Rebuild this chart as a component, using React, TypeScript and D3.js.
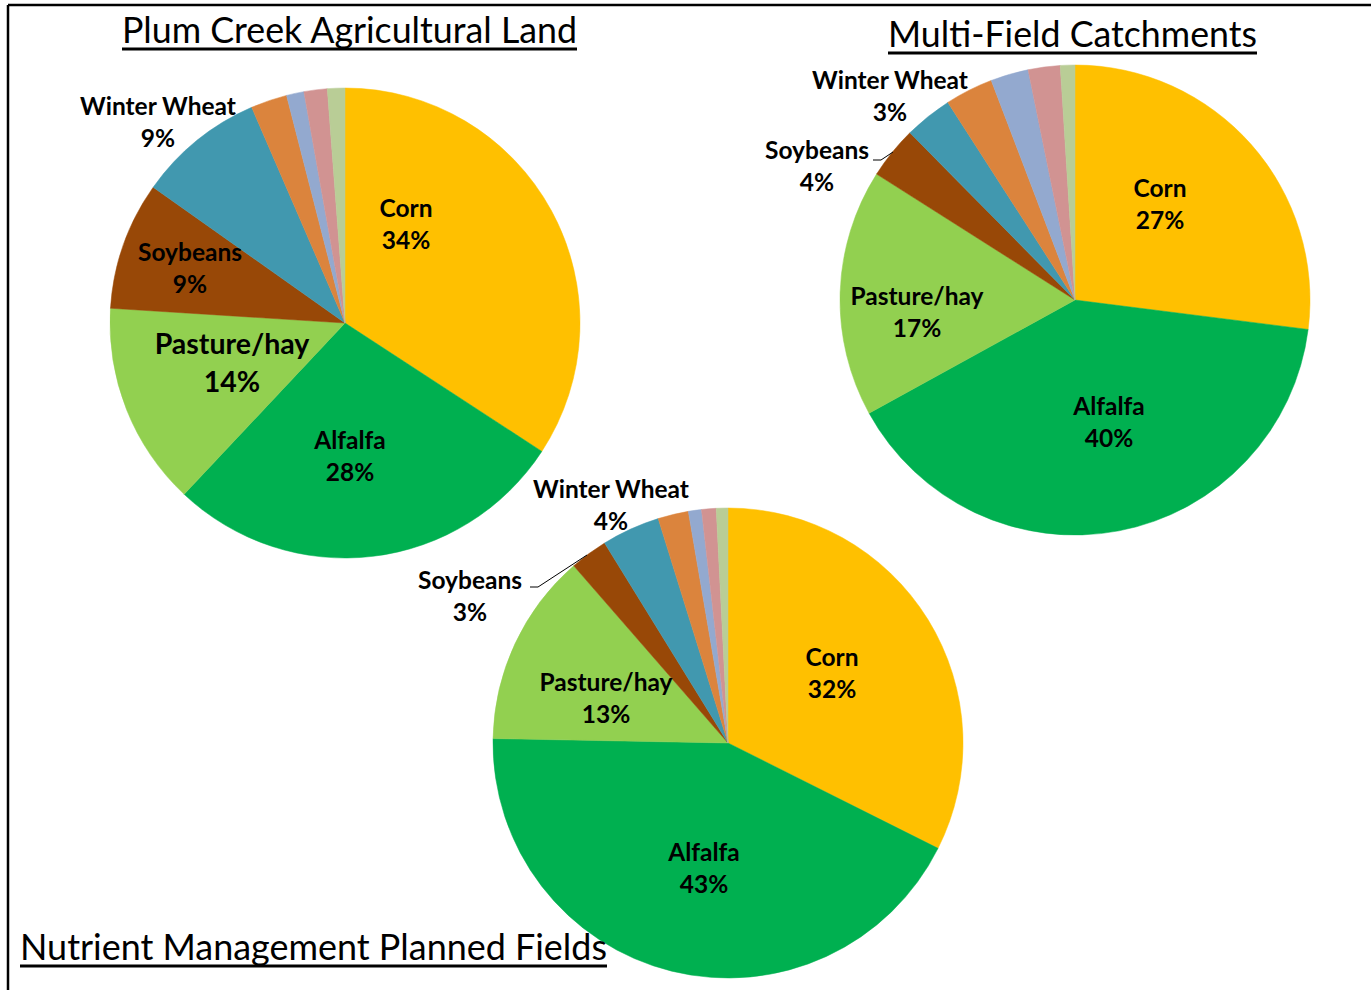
import React from "react";
import * as d3 from "d3";

const categories = ["Corn", "Alfalfa", "Pasture/hay", "Soybeans", "Winter Wheat", "Other 1", "Other 2", "Other 3", "Other 4"];
const colors = ["#FFC000", "#00B050", "#92D050", "#984807", "#4198AF", "#DB843D", "#93A9CF", "#D19392", "#B9CD96"];

const plumCreekValues = [34.2, 27.8, 14.0, 8.8, 8.7, 2.5, 1.2, 1.6, 1.2];
const multiFieldValues = [27.0, 40.0, 17.0, 3.6, 3.3, 3.3, 2.6, 2.2, 1.0];
const nutrientValues = [32.4, 42.9, 13.3, 2.6, 4.0, 2.1, 0.9, 1.0, 0.8];

const titles = ["Plum Creek Agricultural Land", "Multi-Field Catchments", "Nutrient Management Planned Fields"];

const R = 235;
const FONT = "Lato, 'Open Sans', sans-serif";

const pies = [
  {
    title: titles[0], values: plumCreekValues, cx: 345, cy: 323,
    titlePos: { x: 122, y: 43, w: 455 },
    labels: [
      { cat: "Corn", dx: 61, dy: -115 },
      { cat: "Alfalfa", dx: 5, dy: 117 },
      { cat: "Pasture/hay", dx: -113, dy: 21, size: 28.5, gap: 38 },
      { cat: "Soybeans", dx: -155, dy: -71 },
      { cat: "Winter Wheat", dx: -187, dy: -217 },
    ] as any[],
  },
  {
    title: titles[1], values: multiFieldValues, cx: 1075, cy: 300,
    titlePos: { x: 888, y: 47, w: 369 },
    labels: [
      { cat: "Corn", dx: 85, dy: -112 },
      { cat: "Alfalfa", dx: 34, dy: 106 },
      { cat: "Pasture/hay", dx: -158, dy: -4 },
      { cat: "Soybeans", dx: -258, dy: -150, leader: [[-202, -140], [-194, -140], [-182, -148]] },
      { cat: "Winter Wheat", dx: -185, dy: -220 },
    ] as any[],
  },
  {
    title: titles[2], values: nutrientValues, cx: 728, cy: 743,
    titlePos: { x: 20, y: 960, w: 587 },
    labels: [
      { cat: "Corn", dx: 104, dy: -86 },
      { cat: "Alfalfa", dx: -24, dy: 109 },
      { cat: "Pasture/hay", dx: -122, dy: -61 },
      { cat: "Soybeans", dx: -258, dy: -163, leader: [[-198, -156], [-190, -156], [-141, -188]] },
      { cat: "Winter Wheat", dx: -117, dy: -254 },
    ] as any[],
  },
];

function Pie({ p }: { p: any }) {
  const pie = d3.pie<number>().sort(null).value((d) => d);
  const arcs = pie(p.values);
  const arc = d3.arc<d3.PieArcDatum<number>>().innerRadius(0).outerRadius(R);
  const total = d3.sum(p.values as number[]);
  return (
    <g>
      <g transform={`translate(${p.cx},${p.cy})`}>
        {arcs.map((a, i) => (
          <path key={i} d={arc(a) || ""} fill={colors[i]} stroke={colors[i]} strokeWidth={0.5} />
        ))}
        {p.labels.map((l: any, i: number) => {
          const idx = categories.indexOf(l.cat);
          const pct = Math.round((p.values[idx] / total) * 100);
          const size = l.size || 24.5;
          const gap = l.gap || 32;
          const base = l.dy + size * 0.36;
          return (
            <g key={i}>
              {l.leader && (
                <polyline points={l.leader.map((q: number[]) => q.join(",")).join(" ")} fill="none" stroke="#000" strokeWidth={1} />
              )}
              <text x={l.dx} y={base} textAnchor="middle" fontFamily={FONT} fontWeight={700} fontSize={size} fill="#000">
                {l.cat}
              </text>
              <text x={l.dx} y={base + gap} textAnchor="middle" fontFamily={FONT} fontWeight={700} fontSize={size} fill="#000">
                {pct}%
              </text>
            </g>
          );
        })}
      </g>
    </g>
  );
}

function Title({ p }: { p: any }) {
  const t = p.titlePos;
  return (
    <g>
      <text x={t.x} y={t.y} fontFamily={FONT} fontSize={36} fill="#000" textLength={t.w} lengthAdjust="spacingAndGlyphs">
        {p.title}
      </text>
      <line x1={t.x} x2={t.x + t.w} y1={t.y + 6} y2={t.y + 6} stroke="#000" strokeWidth={3} />
    </g>
  );
}

export default function App() {
  return (
    <svg width={1371} height={990} style={{ position: "absolute", left: 0, top: 0, background: "#fff" }}>
      <rect x={0} y={0} width={1371} height={990} fill="#fff" />
      <line x1={8} y1={5} x2={1371} y2={5} stroke="#000" strokeWidth={2.5} />
      <line x1={8} y1={5} x2={8} y2={990} stroke="#000" strokeWidth={2.5} />
      {pies.map((p, i) => (
        <Pie key={i} p={p} />
      ))}
      {pies.map((p, i) => (
        <Title key={i} p={p} />
      ))}
    </svg>
  );
}
